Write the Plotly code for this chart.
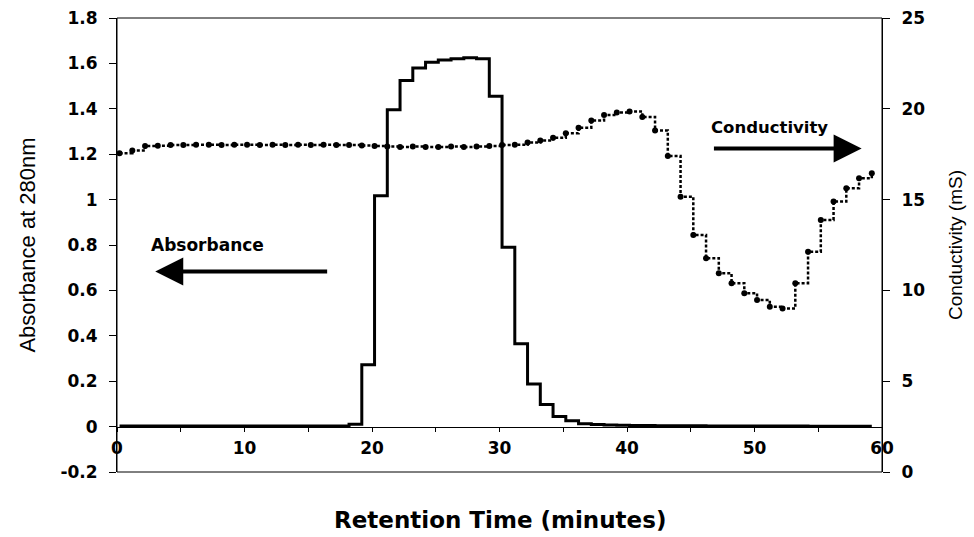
import plotly.graph_objects as go

FONT = "Liberation Sans, Arial, sans-serif"
BOLD = "DejaVu Sans, Verdana, sans-serif"

# sample times (minutes) shared by both detectors
time_min = [0.2, 1.2, 2.2, 3.2, 4.2, 5.2, 6.2, 7.2, 8.2, 9.2,
            10.2, 11.2, 12.2, 13.2, 14.2, 15.2, 16.2, 17.2, 18.2, 19.2,
            20.2, 21.2, 22.2, 23.2, 24.2, 25.2, 26.2, 27.2, 28.2, 29.2,
            30.2, 31.2, 32.2, 33.2, 34.2, 35.2, 36.2, 37.2, 38.2, 39.2,
            40.2, 41.2, 42.2, 43.2, 44.2, 45.2, 46.2, 47.2, 48.2, 49.2,
            50.2, 51.2, 52.2, 53.2, 54.2, 55.2, 56.2, 57.2, 58.2, 59.2]

# absorbance at 280 nm (left axis)
absorbance = [0.003, 0.003, 0.003, 0.003, 0.003, 0.003, 0.003, 0.003, 0.003, 0.003,
              0.003, 0.003, 0.003, 0.003, 0.003, 0.003, 0.003, 0.003, 0.010, 0.273,
              1.017, 1.396, 1.525, 1.580, 1.605, 1.615, 1.620, 1.625, 1.620, 1.455,
              0.790, 0.365, 0.188, 0.097, 0.045, 0.026, 0.013, 0.009, 0.007, 0.006,
              0.005, 0.005, 0.004, 0.004, 0.004, 0.004, 0.003, 0.003, 0.003, 0.003,
              0.003, 0.003, 0.003, 0.003, 0.002, 0.002, 0.002, 0.002, 0.002, 0.002]

# conductivity in mS (right axis)
conductivity = [17.55, 17.70, 17.95, 17.97, 18.00, 18.00, 18.02, 18.02, 18.00, 18.02,
                18.02, 18.00, 18.02, 18.00, 18.02, 18.00, 18.02, 18.00, 18.00, 17.98,
                17.95, 17.92, 17.90, 17.92, 17.90, 17.90, 17.92, 17.90, 17.92, 17.95,
                18.00, 18.02, 18.14, 18.25, 18.41, 18.65, 18.96, 19.35, 19.66, 19.80,
                19.85, 19.55, 18.80, 17.40, 15.16, 13.05, 11.77, 10.94, 10.40, 9.84,
                9.47, 9.10, 9.00, 10.40, 12.13, 13.88, 14.89, 15.62, 16.17, 16.45]

x_ticks = [0, 10, 20, 30, 40, 50, 60]
abs_ticks = [-0.2, 0, 0.2, 0.4, 0.6, 0.8, 1, 1.2, 1.4, 1.6, 1.8]
abs_labels = ["-0.2", "0", "0.2", "0.4", "0.6", "0.8", "1", "1.2", "1.4", "1.6", "1.8"]
cond_ticks = [0, 5, 10, 15, 20, 25]

fig = go.Figure()

fig.add_trace(go.Scatter(
    x=time_min, y=conductivity, yaxis="y2", name="Conductivity",
    mode="lines+markers", line=dict(color="black", width=2.5, dash="3px,2px", shape="hv"),
    marker=dict(color="black", size=6),
))
fig.add_trace(go.Scatter(
    x=time_min, y=absorbance, name="Absorbance",
    mode="lines", line=dict(color="black", width=3, shape="hv"),
))

tickfont = dict(family=BOLD, size=17, color="black", weight="bold")

fig.update_layout(
    width=974, height=537,
    margin=dict(l=117, r=92, t=18, b=65),
    paper_bgcolor="white", plot_bgcolor="white",
    showlegend=False,
    font=dict(family=FONT, color="black"),
    xaxis=dict(
        range=[0, 60], tickvals=x_ticks, ticks="outside", ticklen=4,
        tickcolor="black", tickfont=tickfont, showgrid=False, zeroline=False,
        showline=True, linecolor="black", linewidth=1, automargin=False,
        anchor="free", position=0.1, ticklabelstandoff=2,
        minor=dict(dtick=5, ticks="outside", ticklen=4, tickcolor="black"),
    ),
    yaxis=dict(
        range=[-0.2, 1.8], tickvals=abs_ticks, ticktext=abs_labels,
        ticks="outside", ticklen=7, tickcolor="black", tickfont=tickfont,
        showgrid=False, zeroline=False, showline=True, linecolor="black", linewidth=1,
        ticklabelstandoff=8, automargin=False,
        title=dict(text="Absorbance at 280nm", font=dict(family=FONT, size=22), standoff=18),
    ),
    yaxis2=dict(
        range=[0, 25], tickvals=cond_ticks, overlaying="y", side="right",
        ticks="outside", ticklen=7, tickcolor="black", tickfont=tickfont,
        showgrid=False, zeroline=False, showline=True, linecolor="black", linewidth=1,
        ticklabelstandoff=8, automargin=False,
        title=dict(text="Conductivity (mS)", font=dict(family=FONT, size=19), standoff=24),
    ),
    shapes=[dict(type="rect", xref="paper", yref="paper", x0=0, x1=1, y0=0, y1=1,
                 line=dict(color="black", width=1))],
)

fig.add_annotation(x=0.5, y=-0.106, xref="paper", yref="paper", showarrow=False,
                   text="Retention Time (minutes)", yanchor="middle",
                   font=dict(family=BOLD, size=23, weight="bold"))

# direction labels with arrows
fig.add_annotation(x=7.1, y=0.80, text="Absorbance", showarrow=False,
                   font=dict(family=BOLD, size=17, weight="bold"))
fig.add_annotation(x=3.0, y=0.683, ax=16.6, ay=0.683, axref="x", ayref="y",
                   text="", showarrow=True, arrowhead=2, arrowsize=1.4,
                   arrowwidth=4, arrowcolor="black")
fig.add_annotation(x=51.2, y=1.317, text="Conductivity", showarrow=False,
                   font=dict(family=BOLD, size=16.5, weight="bold"))
fig.add_annotation(x=58.4, y=1.225, ax=46.7, ay=1.225, axref="x", ayref="y",
                   text="", showarrow=True, arrowhead=2, arrowsize=1.4,
                   arrowwidth=4, arrowcolor="black")

# the page body has a default 8px margin; drop it so the figure fills the window
fig.write_html("out.html", config={"displayModeBar": False},
               post_script="document.body.style.margin='0';")
